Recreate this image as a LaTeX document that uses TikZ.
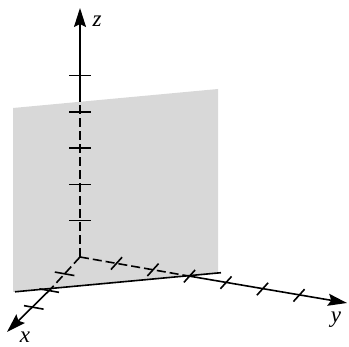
\documentclass[tikz,border=0pt]{standalone}
\usepackage{fontspec}
\setmainfont{Liberation Serif}
\usetikzlibrary{arrows.meta,calc}
\definecolor{planegray}{RGB}{216,216,216}
\begin{document}
\begin{tikzpicture}[x=1pt,y={(0,-1pt)},
  axis/.style={line width=1.6pt, draw=black},
  dashedaxis/.style={line width=1.6pt, draw=black, dash pattern=on 9pt off 4pt},
  tickmark/.style={line width=1.6pt, draw=black},
  arr/.style={-{Stealth[length=19pt,width=12pt,inset=3pt]}},
  lab/.style={inner sep=0pt, font=\fontsize{23}{25}\selectfont\itshape}]
\useasboundingbox (0,0) rectangle (349,347);
% plane
\coordinate (PTL) at (13,108);
\coordinate (PTR) at (218,89);
\coordinate (PBR) at (218,273);
\coordinate (PBL) at (13,292);
\fill[planegray] (PTL) -- (PTR) -- (PBR) -- (PBL) -- cycle;
\draw[axis] (15,291.8) coordinate (EL) -- (221,272.7) coordinate (ER);
% axes
\coordinate (O) at (80,257);
\coordinate (Xtip) at (7,332);
\coordinate (Ytip) at (347,303);
\coordinate (Ztip) at (80,8);
\coordinate (Xc) at (51.2,288.5);
\coordinate (Yc) at (187.4,275.8);
\coordinate (Zc) at (80,102);
\draw[dashedaxis] (O) -- (Zc);
\draw[axis,arr] (Zc) -- (Ztip);
\draw[dashedaxis] (O) -- (Xc);
\draw[axis,arr] (Xc) -- (Xtip);
\draw[dashedaxis] (O) -- (Yc);
\draw[axis,arr] (Yc) -- (Ytip);
% ticks on z
\foreach \k in {1,...,5}
  \draw[tickmark] ($(O)+(-11,-36.3*\k)$) -- ($(O)+(11,-36.3*\k)$);
% ticks on x (parallel to y direction)
\foreach \k in {1,2,3}
  \draw[tickmark] ($(O)+(-15.4*\k,16.8*\k)+(-9.8,-1.75)$) -- ($(O)+(-15.4*\k,16.8*\k)+(9.8,1.75)$);
% ticks on y (parallel to x direction)
\foreach \k in {1,...,6}
  \draw[tickmark] ($(O)+(36.5*\k,6.4*\k)+(5.6,-6.2)$) -- ($(O)+(36.5*\k,6.4*\k)+(-5.6,6.2)$);
% labels
\node[lab] (lz) at (97,21) {z};
\node[lab] (lx) at (25,337) {x};
\node[lab] (ly) at (336,320) {y};
\end{tikzpicture}
\end{document}
